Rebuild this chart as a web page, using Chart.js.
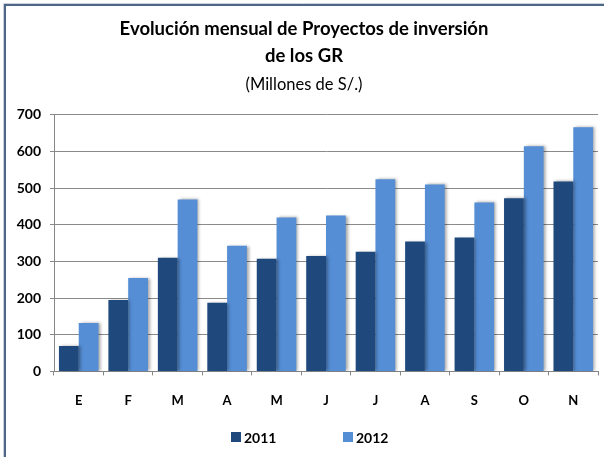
<!DOCTYPE html>
<html>
<head>
<meta charset="utf-8">
<script src="https://cdn.jsdelivr.net/npm/chart.js@4/dist/chart.umd.min.js"></script>
<style>
  html, body { margin: 0; padding: 0; background: #fff; }
  #wrap { position: relative; width: 604px; height: 457px; }
</style>
</head>
<body>
<div id="wrap"><canvas id="myChart" width="604" height="457"></canvas></div>
<script>
const months = ['E', 'F', 'M', 'A', 'M', 'J', 'J', 'A', 'S', 'O', 'N'];
const serie2011 = [69, 195, 310, 187, 307, 315, 326, 354, 365, 472, 518];
const serie2012 = [132, 255, 469, 343, 420, 425, 524, 510, 461, 614, 666];
const years = ['2011', '2012'];
const colors = ['#1f497d', '#558ed5'];

const FONT = 'Lato, "Open Sans", sans-serif';

// gray frame round the chart (only left and top edges show)
const frame = {
  id: 'frame',
  beforeDraw(chart) {
    const ctx = chart.ctx;
    ctx.save();
    ctx.strokeStyle = '#c9d1da';
    ctx.lineWidth = 1;
    ctx.beginPath();
    ctx.moveTo(3.5, 457); ctx.lineTo(3.5, 3.5); ctx.lineTo(604, 3.5);
    ctx.stroke();
    ctx.strokeStyle = '#4f6787';
    ctx.lineWidth = 2;
    ctx.beginPath();
    ctx.moveTo(5, 457); ctx.lineTo(5, 5); ctx.lineTo(604, 5);
    ctx.stroke();
    ctx.restore();
  }
};

// soft shadow behind the bars
const barShadow = {
  id: 'barShadow',
  beforeDatasetDraw(chart) {
    const ctx = chart.ctx;
    ctx.save();
    ctx.shadowColor = 'rgba(0,0,0,0.35)';
    ctx.shadowOffsetX = 2;
    ctx.shadowOffsetY = 0;
    ctx.shadowBlur = 3;
  },
  afterDatasetDraw(chart) {
    chart.ctx.restore();
  }
};

// legend with wide gap between the two years
const yearLegend = {
  id: 'yearLegend',
  afterDraw(chart) {
    const ctx = chart.ctx;
    const xs = [231, 343];
    const y = 437;
    ctx.save();
    ctx.font = 'bold 14px ' + FONT;
    ctx.textBaseline = 'middle';
    chart.data.datasets.forEach((ds, i) => {
      ctx.fillStyle = ds.backgroundColor;
      ctx.fillRect(xs[i], y - 5, 10, 10);
      ctx.fillStyle = '#000';
      ctx.fillText(ds.label, xs[i] + 13, y + 1);
    });
    ctx.restore();
  }
};

const ctx = document.getElementById('myChart');
new Chart(ctx, {
  type: 'bar',
  data: {
    labels: months,
    datasets: [
      { label: years[0], data: serie2011, backgroundColor: colors[0] },
      { label: years[1], data: serie2012, backgroundColor: colors[1] }
    ]
  },
  options: {
    responsive: false,
    animation: false,
    layout: { padding: { left: 10, right: 6, top: 0, bottom: 30 } },
    datasets: { bar: { categoryPercentage: 0.8, barPercentage: 1.0 } },
    plugins: {
      legend: { display: false },
      tooltip: { enabled: false },
      title: {
        display: true,
        text: ['Evolución mensual de Proyectos de inversión', 'de los GR'],
        color: '#000',
        font: { family: FONT, size: 18.5, weight: 'bold', lineHeight: 1.45 },
        padding: { top: 16, bottom: 5 }
      },
      subtitle: {
        display: true,
        text: '(Millones de S/.)',
        color: '#000',
        font: { family: FONT, size: 16.5, weight: 'normal', lineHeight: 1.2 },
        padding: { top: 0, bottom: 20.3 }
      }
    },
    scales: {
      x: {
        grid: { offset: true, drawOnChartArea: false, tickLength: 4, color: '#868686' },
        border: { color: '#868686' },
        ticks: { color: '#000', padding: 18, font: { family: FONT, size: 13, weight: 'bold' } }
      },
      y: {
        min: 0,
        max: 700,
        afterFit(scale) { scale.width = 44; },
        grid: { color: '#8a8a8a', tickLength: 4 },
        border: { color: '#868686' },
        ticks: { stepSize: 100, color: '#000', padding: 9, font: { family: FONT, size: 14, weight: 'bold' } }
      }
    }
  },
  plugins: [frame, barShadow, yearLegend]
});
</script>
</body>
</html>
